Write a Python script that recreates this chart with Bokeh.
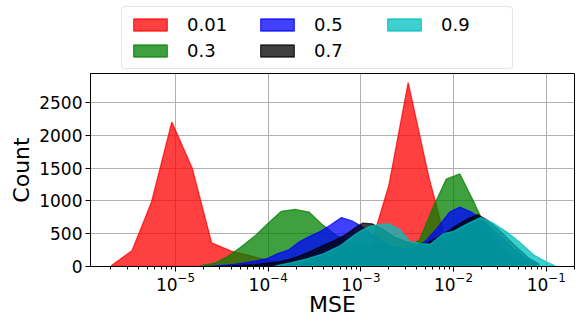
import numpy as np
from bokeh.plotting import figure
from bokeh.layouts import column
from bokeh.models import Range1d, FixedTicker, Legend, LegendItem
from bokeh.embed import file_html
from bokeh.resources import INLINE

# ---- data (bin centres in MSE, counts) ----
mse_001 = [2.04e-6, 3.39e-6, 5.50e-6, 9.12e-6, 1.51e-5, 2.45e-5, 3.98e-5, 6.46e-5, 1.07e-4, 1.74e-4,
           2.82e-4, 4.68e-4, 7.59e-4, 1.23e-3, 2.00e-3, 3.24e-3, 5.37e-3, 8.71e-3, 1.41e-2, 2.34e-2]
cnt_001 = [15, 240, 980, 2200, 1500, 360, 235, 160, 85, 55,
           40, 45, 90, 240, 1230, 2800, 1380, 260, 40, 5]

mse_03 = [1.86e-5, 2.63e-5, 3.72e-5, 5.13e-5, 7.24e-5, 1.00e-4, 1.38e-4, 1.95e-4, 2.75e-4, 3.89e-4,
          5.50e-4, 7.76e-4, 1.10e-3, 1.55e-3, 2.14e-3, 3.02e-3, 4.27e-3, 5.89e-3, 8.32e-3, 1.17e-2,
          1.66e-2, 2.34e-2, 3.24e-2, 4.57e-2, 6.46e-2]
cnt_03 = [10, 50, 160, 300, 470, 660, 840, 870, 830, 630,
          470, 380, 330, 320, 300, 280, 400, 870, 1330, 1410,
          980, 520, 250, 110, 30]

mse_05 = [2.40e-5, 3.16e-5, 4.17e-5, 5.50e-5, 7.41e-5, 9.77e-5, 1.29e-4, 1.66e-4, 2.19e-4, 2.82e-4,
          3.72e-4, 4.79e-4, 6.17e-4, 8.13e-4, 1.05e-3, 1.35e-3, 1.78e-3, 2.29e-3, 3.02e-3, 3.89e-3,
          5.01e-3, 6.61e-3, 9.12e-3, 1.17e-2, 1.55e-2, 2.00e-2, 2.63e-2, 3.47e-2, 4.47e-2, 5.89e-2,
          7.76e-2]
cnt_05 = [5, 15, 30, 55, 85, 120, 200, 250, 380, 460,
          540, 640, 745, 690, 600, 470, 360, 290, 260, 280,
          390, 580, 830, 905, 830, 720, 560, 410, 260, 130,
          50]

mse_07 = [3.55e-5, 5.01e-5, 7.08e-5, 1.00e-4, 1.32e-4, 1.70e-4, 2.24e-4, 2.95e-4, 3.89e-4, 5.13e-4,
          6.76e-4, 8.71e-4, 1.05e-3, 1.32e-3, 1.74e-3, 2.29e-3, 3.02e-3, 3.98e-3, 5.13e-3, 6.76e-3,
          8.71e-3, 1.12e-2, 1.45e-2, 1.82e-2, 2.34e-2, 3.02e-2, 3.89e-2, 5.01e-2, 6.46e-2, 8.32e-2]
cnt_07 = [5, 15, 30, 50, 70, 110, 165, 240, 320, 390,
          480, 590, 660, 650, 560, 450, 380, 340, 355, 440,
          540, 640, 730, 790, 700, 570, 420, 270, 130, 40]

mse_09 = [1.20e-4, 1.74e-4, 2.63e-4, 3.98e-4, 6.03e-4, 8.32e-4, 1.02e-3, 1.26e-3, 1.62e-3, 2.00e-3,
          2.69e-3, 3.39e-3, 4.37e-3, 5.62e-3, 7.76e-3, 1.00e-2, 1.41e-2, 1.95e-2, 2.69e-2, 3.80e-2,
          5.25e-2, 7.41e-2, 1.02e-1, 1.23e-1]
cnt_09 = [10, 55, 117, 195, 320, 470, 550, 610, 640, 650,
          550, 380, 350, 340, 500, 535, 650, 745, 660, 520,
          360, 170, 65, 15]

labels = ["0.01", "0.3", "0.5", "0.7", "0.9"]
colors = ["#ff0000", "#008000", "#0000ff", "#000000", "#00bfbf"]
xticks = [1e-5, 1e-4, 1e-3, 1e-2, 1e-1]
yticks = [0, 500, 1000, 1500, 2000, 2500]

series = list(zip(labels, [mse_001, mse_03, mse_05, mse_07, mse_09],
                  [cnt_001, cnt_03, cnt_05, cnt_07, cnt_09], colors))

all_x = np.log10(np.concatenate([s[1] for s in series]))
lo, hi = all_x.min(), all_x.max()
span = hi - lo
x_range = Range1d(10 ** (lo - 0.0475 * span), 10 ** (hi + 0.045 * span))
ymax = max(max(s[2]) for s in series)
y_range = Range1d(0, 1.05 * ymax)

FONT = "DejaVu Sans"
W = 581

p = figure(x_axis_type="log", x_range=x_range, y_range=y_range,
           width=W, height=255,
           min_border_left=90, min_border_right=7, min_border_top=3, min_border_bottom=59,
           output_backend="svg", toolbar_location=None)
p.background_fill_color = "white"
p.border_fill_color = "white"
p.outline_line_color = "black"
p.outline_line_width = 1
p.outline_line_alpha = 1

# legend-only strip above the main plot (same patches, kept out of its view)
top = figure(width=W, height=70, x_axis_type="log", x_range=Range1d(1e-9, 1e-8),
             y_range=Range1d(-2, -1), min_border=0, output_backend="svg",
             toolbar_location=None, x_axis_location=None, y_axis_location=None)
top.outline_line_color = None
top.grid.visible = False
top.background_fill_color = "white"
top.border_fill_color = "white"

items = []
for lab, xs, ys, col in series:
    px = list(xs) + [xs[-1], xs[0]]
    py = list(ys) + [0, 0]
    style = dict(fill_color=col, fill_alpha=0.75, line_color=col, line_alpha=0.75, line_width=1.3)
    p.patch(px, py, **style)
    r = top.patch(px, py, **style)
    items.append(LegendItem(label=lab, renderers=[r]))

minor = [m * 10.0 ** e for e in range(-7, 1) for m in range(2, 10)]
p.xaxis.ticker = FixedTicker(ticks=xticks, minor_ticks=minor)
p.yaxis.ticker = FixedTicker(ticks=yticks)

for ax in (p.xaxis[0], p.yaxis[0]):
    ax.axis_line_color = "black"
    ax.major_tick_line_color = "black"
    ax.major_tick_in = 0
    ax.major_tick_out = 5
    ax.minor_tick_in = 0
    ax.minor_tick_out = 3
    ax.major_label_text_font = FONT
    ax.major_label_text_font_size = "17px"
    ax.major_label_text_color = "black"
    ax.axis_label_text_font = FONT
    ax.axis_label_text_font_size = "22px"
    ax.axis_label_text_font_style = "normal"
    ax.axis_label_text_color = "black"
p.yaxis.minor_tick_line_color = None
p.xaxis.minor_tick_line_color = "black"
p.xaxis.axis_label = "MSE"
p.yaxis.axis_label = "Count"
p.xaxis.axis_label_standoff = -2
p.xaxis.major_label_standoff = 0
p.yaxis.axis_label_standoff = 2
p.yaxis.major_label_standoff = 3

p.grid.grid_line_color = "#b0b0b0"
p.grid.grid_line_width = 1

legend = Legend(items=items, location=(31, 1), orientation="vertical")
props = Legend.properties()
if "ncols" in props:
    legend.ncols = 3
legend.label_text_font = FONT
legend.label_text_font_size = "18px"
legend.label_text_color = "black"
legend.glyph_width = 42
legend.glyph_height = 15
legend.label_standoff = 16
legend.label_width = 64
legend.spacing = 5
legend.padding = 7
legend.margin = 0
legend.border_line_color = "#cccccc"
legend.border_line_width = 1
legend.background_fill_color = "white"
legend.background_fill_alpha = 1
if "border_radius" in props:
    legend.border_radius = 4
top.add_layout(legend, "center")

layout = column(top, p, spacing=0)
open("out.html", "w").write(file_html(layout, INLINE))
